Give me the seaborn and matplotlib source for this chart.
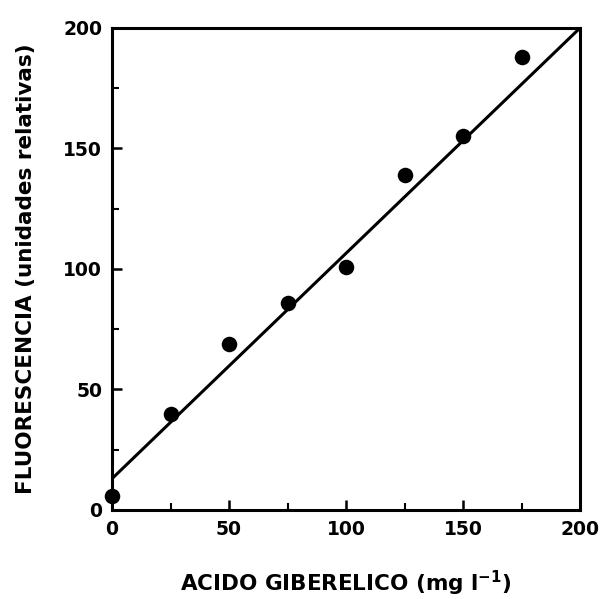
import matplotlib
matplotlib.use("Agg")
import matplotlib.pyplot as plt
from matplotlib.ticker import MultipleLocator
import seaborn as sns
import pandas as pd

# Measured fluorescence vs gibberellic acid concentration
acido = [0, 25, 50, 75, 100, 125, 150, 175]
fluorescencia = [6, 40, 69, 86, 101, 139, 155, 188]

# Calibration line endpoints
recta_x = [0, 200]
recta_y = [13, 200]

sns.set_theme(style="white")
plt.rcParams["font.family"] = ["DejaVu Sans"]
plt.rcParams["font.weight"] = "bold"
plt.rcParams["mathtext.default"] = "bf"

fig = plt.figure(figsize=(6.0, 5.99), dpi=100)
ax = fig.add_axes([0.1867, 0.1486, 0.78, 0.8047])

puntos = pd.DataFrame({"x": acido, "y": fluorescencia})
recta = pd.DataFrame({"x": recta_x, "y": recta_y})

sns.lineplot(data=recta, x="x", y="y", ax=ax, color="black", linewidth=2.2)
sns.scatterplot(data=puntos, x="x", y="y", ax=ax, color="black", s=125,
                edgecolor="black", linewidth=0, zorder=5, clip_on=False)

ax.set_xlim(0, 200)
ax.set_ylim(0, 200)
ax.xaxis.set_major_locator(MultipleLocator(50))
ax.xaxis.set_minor_locator(MultipleLocator(25))
ax.yaxis.set_major_locator(MultipleLocator(50))
ax.yaxis.set_minor_locator(MultipleLocator(25))

ax.tick_params(axis="both", which="major", direction="in", length=7, width=1.8,
               labelsize=13.5, pad=7, color="black", labelcolor="black")
ax.tick_params(axis="both", which="minor", direction="in", length=5, width=1.5,
               color="black")
ax.tick_params(axis="both", which="both", bottom=True, left=True, top=False, right=False)
for lab in ax.get_xticklabels() + ax.get_yticklabels():
    lab.set_fontweight("bold")

for sp in ax.spines.values():
    sp.set_color("black")
    sp.set_linewidth(2.2)

ax.set_xlabel("ACIDO GIBERELICO (mg l$^{-1}$)", fontsize=15.5, fontweight="bold",
              labelpad=22, color="black")
ax.set_ylabel("FLUORESCENCIA (unidades relativas)", fontsize=15.5, fontweight="bold",
              labelpad=20, color="black")

fig.savefig("out.png", dpi=100, facecolor="white")
